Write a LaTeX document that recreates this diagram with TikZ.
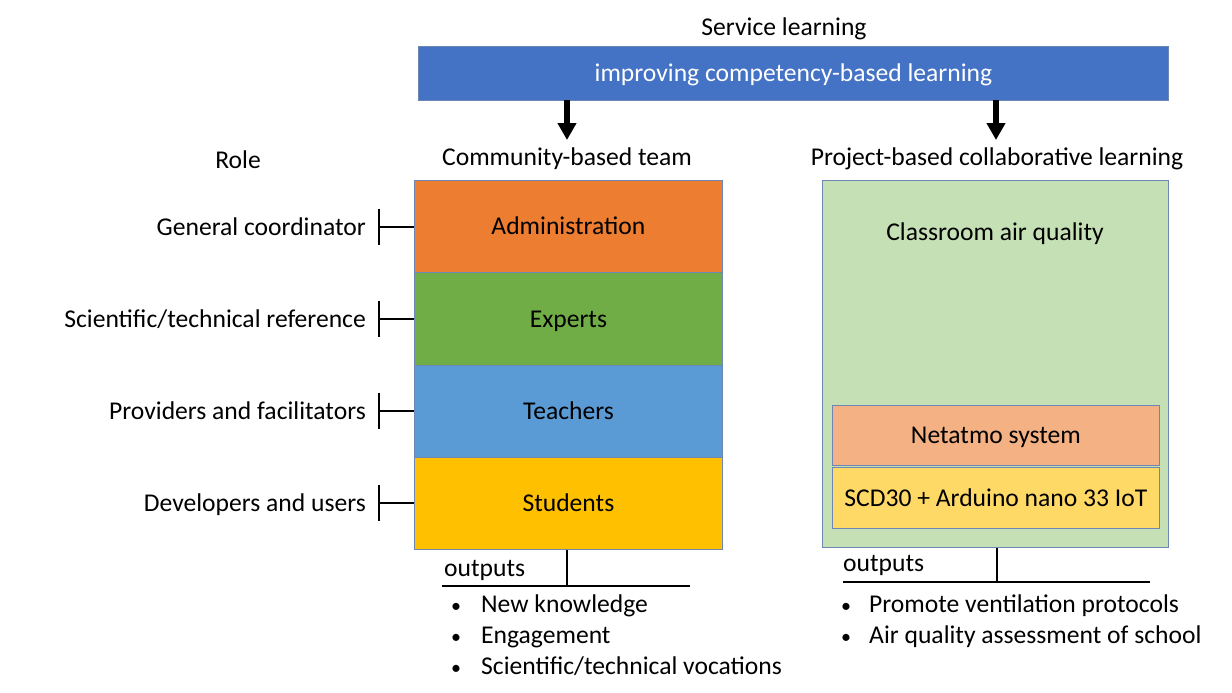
\documentclass[tikz,border=0pt]{standalone}
\usepackage{fontspec}
\setmainfont{Carlito}
\usetikzlibrary{arrows.meta}
\definecolor{barblue}{HTML}{4472C4}
\definecolor{adminor}{HTML}{ED7D31}
\definecolor{expgreen}{HTML}{70AD47}
\definecolor{teachblue}{HTML}{5B9BD5}
\definecolor{studgold}{HTML}{FFC000}
\definecolor{lightgreen}{HTML}{C5E0B4}
\definecolor{netor}{HTML}{F4B183}
\definecolor{scdyel}{HTML}{FFD966}
\definecolor{edgeblue}{HTML}{6E86B4}
\begin{document}
\begin{tikzpicture}[x=1pt,y=-1pt,
  every node/.style={font=\fontsize{25.6}{30}\selectfont, inner sep=0pt, text height=20pt, text depth=3.5pt},
  lbl/.style={text=black},
  boxb/.style={draw=edgeblue, line width=0.8pt, minimum width=#1, anchor=north west},
  bigarrow/.style={-{Triangle[length=17pt,width=18pt]}, line width=6pt},
  tick/.style={line width=2.4pt},
  thinln/.style={line width=2pt},
  bul/.style={font=\fontsize{20}{20}\selectfont, text=black, text height=, text depth=}
]
\useasboundingbox (0,0) rectangle (1232,693);
% top
\node[lbl] (svc) at (784,27) {Service learning};
\node[boxb=750pt, fill=barblue, minimum height=54pt, text=white] (bar) at (418,46) {improving competency-based learning};
\coordinate (a1s) at (567,100); \coordinate (a1e) at (567,140);
\coordinate (a2s) at (996,100); \coordinate (a2e) at (996,140);
\draw[bigarrow] (a1s) -- (a1e);
\draw[bigarrow] (a2s) -- (a2e);
\node[lbl] (cbt) at (567,157) {Community-based team};
\node[lbl] (pbl) at (997,157) {Project-based collaborative learning};
\node[lbl] (role) at (238,160) {Role};
% left stack
\node[boxb=308pt, fill=adminor, minimum height=92pt] (adm) at (414,180) {Administration};
\node[boxb=308pt, fill=expgreen, minimum height=93pt] (exp) at (414,272) {Experts};
\node[boxb=308pt, fill=teachblue, minimum height=92pt] (tea) at (414,365) {Teachers};
\node[boxb=308pt, fill=studgold, minimum height=92pt] (stu) at (414,457) {Students};
% roles
\node[lbl, anchor=east] (r1) at (366,227) {General coordinator};
\node[lbl, anchor=east] (r2) at (366,319) {Scientific/technical reference};
\node[lbl, anchor=east] (r3) at (366,411) {Providers and facilitators};
\node[lbl, anchor=east] (r4) at (366,503) {Developers and users};
\foreach \y/\n in {227/adm,319/exp,411/tea,503/stu}{
  \coordinate (t\n) at (379,\y);
  \draw[tick] (379,\y-18) -- (379,\y+18);
  \draw[line width=1.3pt] (t\n) -- (\n.west |- t\n);
}
% right box
\node[boxb=346pt, fill=lightgreen, minimum height=367pt] (grn) at (822,180) {};
\node[lbl] (caq) at (995,232) {Classroom air quality};
\node[boxb=327pt, fill=netor, minimum height=60pt] (net) at (832,405) {Netatmo system};
\node[boxb=327pt, fill=scdyel, minimum height=61pt] (scd) at (832,467) {SCD30 + Arduino nano 33 IoT};
% left outputs
\coordinate (lo) at (567,586);
\draw[thinln] (stu.south -| lo) -- (lo);
\coordinate (lol) at (442,586); \coordinate (lor) at (690,586);
\draw[thinln] (lol) -- (lor);
\node[lbl, anchor=west] (lout) at (444,568) {outputs};
\node[bul, anchor=base] (lb1) at (456,612) {•};
\node[lbl, anchor=west] (lt1) at (481,604) {New knowledge};
\node[bul, anchor=base] (lb2) at (456,643) {•};
\node[lbl, anchor=west] (lt2) at (481,635) {Engagement};
\node[bul, anchor=base] (lb3) at (456,674) {•};
\node[lbl, anchor=west] (lt3) at (481,666) {Scientific/technical vocations};
% right outputs
\coordinate (ro) at (997,582);
\draw[thinln] (grn.south -| ro) -- (ro);
\coordinate (rol) at (843,582); \coordinate (ror) at (1150,582);
\draw[thinln] (rol) -- (ror);
\node[lbl, anchor=west] (rout) at (843,563) {outputs};
\node[bul, anchor=base] (rb1) at (846,612) {•};
\node[lbl, anchor=west] (rt1) at (869,604) {Promote ventilation protocols};
\node[bul, anchor=base] (rb2) at (846,643) {•};
\node[lbl, anchor=west] (rt2) at (869,635) {Air quality assessment of school};
\end{tikzpicture}
\end{document}
